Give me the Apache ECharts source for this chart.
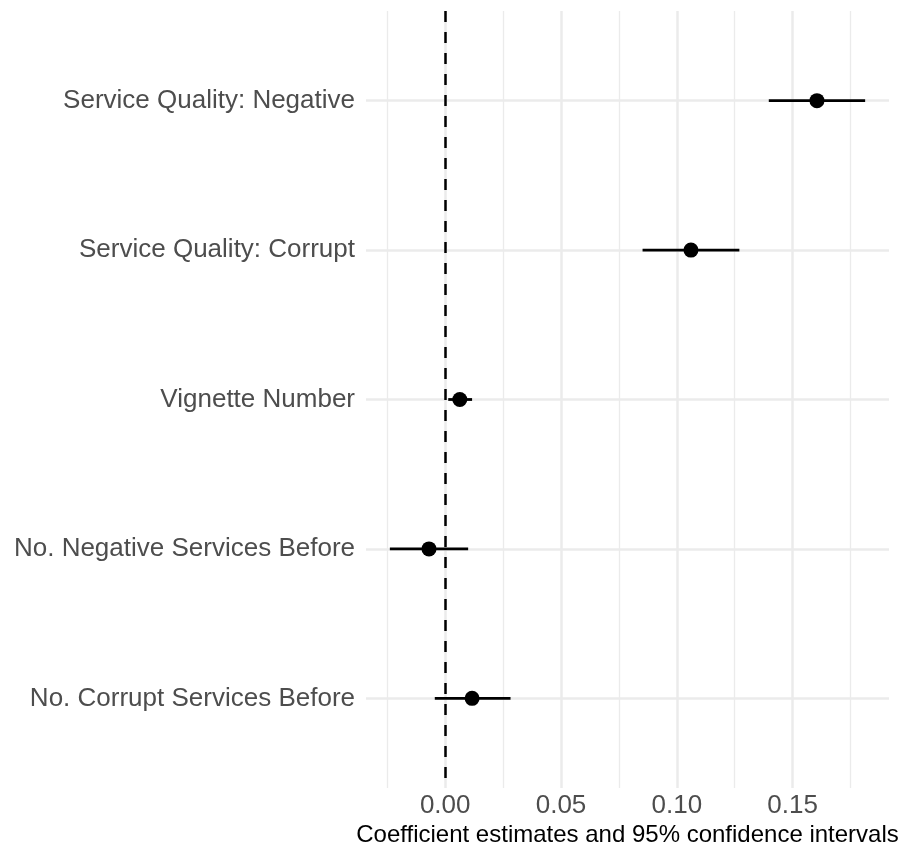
<!DOCTYPE html>
<html>
<head>
<meta charset="utf-8">
<script src="https://cdn.jsdelivr.net/npm/echarts@6/dist/echarts.min.js"></script>
<style>
  html, body { margin: 0; padding: 0; background: #fff; }
  #chart { width: 901px; height: 852px; }
</style>
</head>
<body>
<div id="chart"></div>
<script>
// coefficient plot data, top to bottom
var terms = [
	'Service Quality: Negative',
	'Service Quality: Corrupt',
	'Vignette Number',
	'No. Negative Services Before',
	'No. Corrupt Services Before'
];
var estimates = [0.1605, 0.1061, 0.0063, -0.0070, 0.0116];
var lower = [0.1397, 0.0852, 0.0013, -0.0239, -0.0045];
var upper = [0.1813, 0.1270, 0.0116, 0.0099, 0.0282];
var xMajorTicks = [0, 0.05, 0.10, 0.15];
var xMinorTicks = [-0.025, 0.025, 0.075, 0.125, 0.175];
var rowTicks = [1, 2, 3, 4, 5];

var FONT = '"Liberation Sans", Arial, sans-serif';

var pointData = estimates.map(function (v, i) { return [v, i + 1]; });
var barData = lower.map(function (v, i) { return [v, upper[i], i + 1]; });

// reference lines (grid + zero line) as markLines, kept under the marks
function refLines(data, width, color, dash, z) {
	return {
		type: 'line', data: [], silent: true, z: z,
		markLine: {
			silent: true, symbol: 'none', animation: false,
			precision: 6, z: z,
			label: { show: false },
			emphasis: { disabled: true },
			lineStyle: { color: color, width: width, type: dash },
			data: data
		}
	};
}
function xs(vals) { return vals.map(function (v) { return { xAxis: v }; }); }
function ys(vals) { return vals.map(function (v) { return { yAxis: v }; }); }

var chart = echarts.init(document.getElementById('chart'));
var option = {
	animation: false,
	backgroundColor: '#fff',
	grid: { left: 366, right: 12, top: 11, bottom: 64, outerBoundsMode: 'none', containLabel: false },
	xAxis: {
		type: 'value',
		min: -0.0342,
		max: 0.1916,
		axisLine: { show: false },
		axisTick: { show: false },
		splitLine: { show: false },
		axisLabel: {
			customValues: xMajorTicks,
			formatter: function (v) { return v.toFixed(2); },
			color: '#4d4d4d', fontSize: 26, fontFamily: FONT, margin: 5
		},
		name: 'Coefficient estimates and 95% confidence intervals',
		nameLocation: 'middle',
		nameGap: 35,
		nameMoveOverlap: false,
		nameTextStyle: { color: '#000', fontSize: 24, fontFamily: FONT }
	},
	yAxis: {
		type: 'value',
		inverse: true,
		min: 0.4,
		max: 5.6,
		axisLine: { show: false },
		axisTick: { show: false },
		splitLine: { show: false },
		axisLabel: {
			customValues: rowTicks,
			formatter: function (v) { return terms[Math.round(v) - 1] || ''; },
			color: '#4d4d4d', fontSize: 26, fontFamily: FONT, margin: 11
		}
	},
	series: [
		refLines(xs(xMinorTicks), 1.3, '#ebebeb', 'solid', 1),
		refLines(xs(xMajorTicks), 2.5, '#ebebeb', 'solid', 1),
		refLines(ys(rowTicks), 2.5, '#ebebeb', 'solid', 1),
		refLines(xs([0]), 2.5, '#000', [11, 10], 2),
		{
			type: 'custom',
			z: 10,
			silent: true,
			data: barData,
			renderItem: function (params, api) {
				var a = api.coord([api.value(0), api.value(2)]);
				var b = api.coord([api.value(1), api.value(2)]);
				return {
					type: 'line',
					shape: { x1: a[0], y1: a[1], x2: b[0], y2: b[1] },
					style: { stroke: '#000', lineWidth: 2.8 }
				};
			}
		},
		{
			type: 'scatter',
			z: 11,
			silent: true,
			data: pointData,
			symbol: 'circle',
			symbolSize: 15,
			itemStyle: { color: '#000', opacity: 1 }
		}
	]
};
chart.setOption(option);
</script>
</body>
</html>
